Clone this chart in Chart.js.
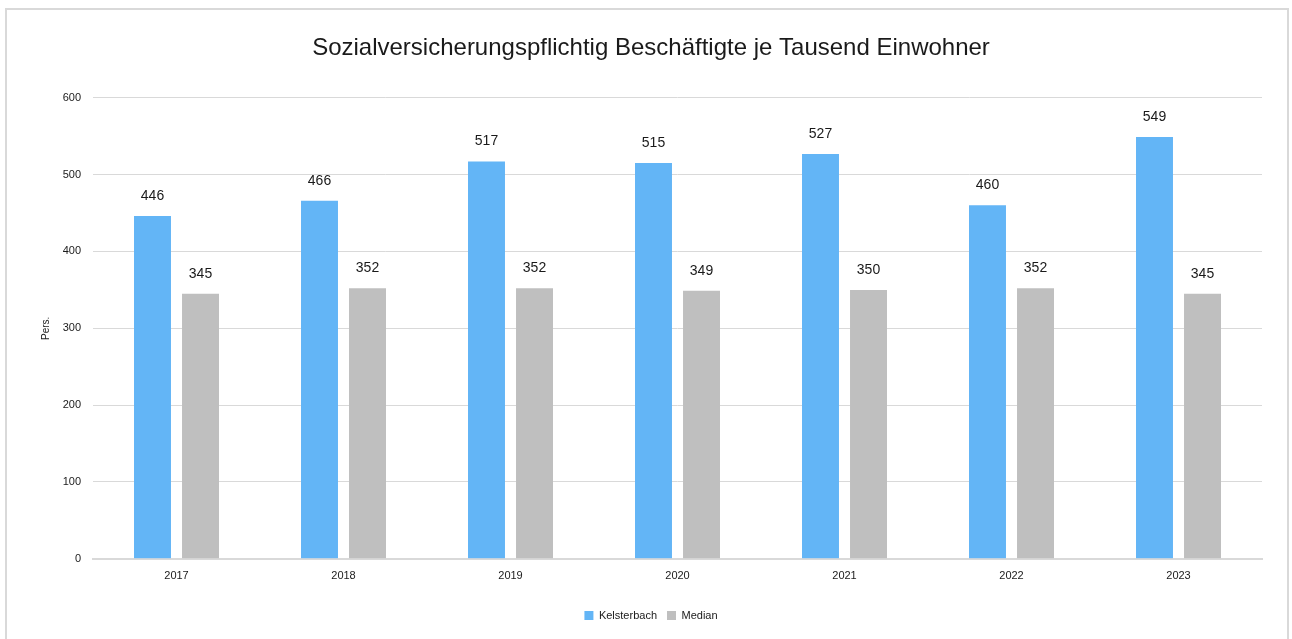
<!DOCTYPE html>
<html><head><meta charset="utf-8">
<script src="https://cdn.jsdelivr.net/npm/chart.js@4.4.1/dist/chart.umd.min.js"></script>
<style>
html,body{margin:0;padding:0;background:#fff;}
#wrap{position:absolute;left:0;top:0;width:1292px;height:639px;}
#frame{position:absolute;left:5px;top:8px;width:1284px;height:640px;border:2px solid #d9d9d9;box-sizing:border-box;}
canvas{position:absolute;left:0;top:0;}
</style></head>
<body>
<div id="wrap"><div id="frame"></div><canvas id="c" width="1292" height="639"></canvas></div>
<script>
const categories = ['2017','2018','2019','2020','2021','2022','2023'];
const kelsterbach = [446,466,517,515,527,460,549];
const median = [345,352,352,349,350,352,345];
const yTicks = [0,100,200,300,400,500,600];

const FONT = "'Liberation Sans', Arial, sans-serif";

const labelPlugin = {
  id:'labels',
  afterDatasetsDraw(chart){
    const ctx = chart.ctx;
    ctx.save();
    ctx.font = '14px ' + FONT;
    ctx.fillStyle = '#1a1a1a';
    ctx.textAlign = 'center';
    ctx.textBaseline = 'middle';
    chart.data.datasets.forEach((ds,i)=>{
      const meta = chart.getDatasetMeta(i);
      meta.data.forEach((bar,j)=>{
        ctx.fillText(String(ds.data[j]), bar.x, bar.y - 20);
      });
    });
    ctx.restore();
  }
};

new Chart(document.getElementById('c'), {
  type:'bar',
  data:{
    labels: categories,
    datasets:[
      {label:'Kelsterbach', data:kelsterbach, backgroundColor:'#63b5f6'},
      {label:'Median', data:median, backgroundColor:'#bfbfbf'}
    ]
  },
  options:{
    responsive:false,
    animation:false,
    devicePixelRatio:1,
    layout:{padding:{left:40,right:30,top:0,bottom:8}},
    datasets:{bar:{categoryPercentage:0.575,barPercentage:0.77}},
    plugins:{
      title:{display:true,text:'Sozialversicherungspflichtig Beschäftigte je Tausend Einwohner',
        color:'#1a1a1a',font:{family:FONT,size:24,weight:'normal'},padding:{top:34,bottom:35}},
      legend:{position:'bottom',labels:{font:{family:FONT,size:11},color:'#1a1a1a',boxWidth:9,boxHeight:9,padding:10}},
      tooltip:{enabled:false}
    },
    scales:{
      x:{
        afterFit(s){ s.height += 6; },
        grid:{display:false,drawTicks:false},
        border:{color:'#d9d9d9',width:2},
        ticks:{font:{family:FONT,size:11},color:'#1a1a1a',padding:11}
      },
      y:{
        min:0,max:600,
        afterBuildTicks(s){ s.ticks = yTicks.map(v=>({value:v})); },
        afterFit(s){ s.width = 53; },
        grid:{color:'#d9d9d9',drawTicks:false,lineWidth:1},
        border:{display:false},
        ticks:{font:{family:FONT,size:11},color:'#1a1a1a',padding:12},
        title:{display:true,text:'Pers.',font:{family:FONT,size:10},color:'#1a1a1a',padding:0}
      }
    }
  },
  plugins:[labelPlugin]
});
</script>
</body></html>
